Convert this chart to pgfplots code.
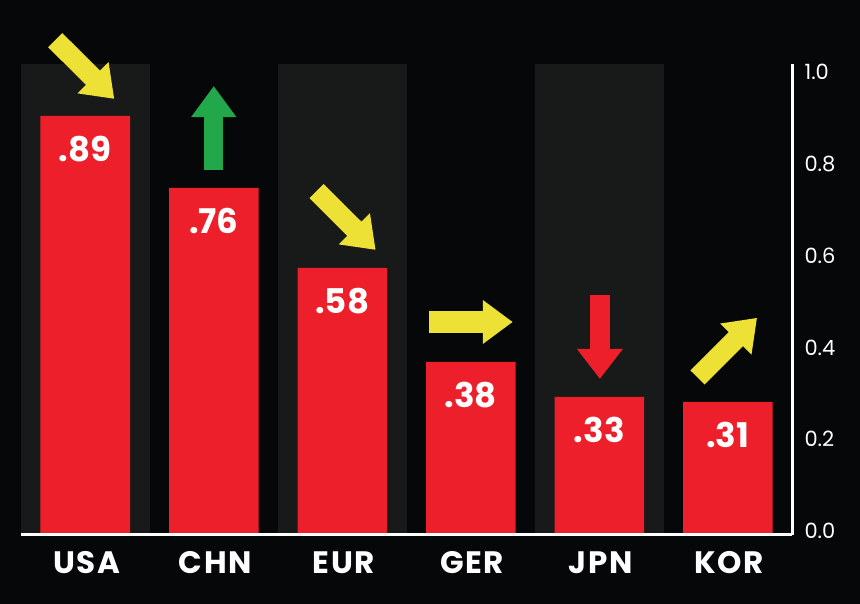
\documentclass[border=0pt]{standalone}
\usepackage{fontspec}
\setmainfont{Poppins}
\usepackage{pgfplots}
\pgfplotsset{compat=1.18}
\usetikzlibrary{arrows.meta}

\definecolor{bgc}{HTML}{060709}
\definecolor{band}{HTML}{181919}
\definecolor{barred}{HTML}{EC1F2A}
\definecolor{ylw}{HTML}{EEE135}
\definecolor{grn}{HTML}{22A84A}

\begin{document}
\begin{tikzpicture}
  % black page behind the chart (860 x 604)
  \fill[bgc] (-21pt,-69pt) rectangle (839pt,535pt);
  \begin{axis}[
      scale only axis,
      width=771pt, height=471pt,
      xmin=-0.5, xmax=5.5,
      ymin=0, ymax=1.026,
      clip=false,
      axis on top,
      axis x line*=bottom,
      axis y line*=right,
      axis line style={white, line width=3pt},
      major tick length=0pt,
      xtick={0,...,5},
      xticklabels={USA,CHN,EUR,GER,JPN,KOR},
      xticklabel style={white, font=\bfseries\fontsize{31}{31}\selectfont\addfontfeatures{LetterSpace=5}, yshift=-13pt, xshift=1.5pt},
      ytick={0,0.2,0.4,0.6,0.8,1.0},
      yticklabels={0.0,0.2,0.4,0.6,0.8,1.0},
      yticklabel style={white, font=\fontsize{21}{21}\selectfont, anchor=west, xshift=9pt, yshift=4pt},
    ]
    % alternating column bands
    \fill[band] (axis cs:-0.5,0) rectangle (axis cs:0.5,1.026);
    \fill[band] (axis cs:1.5,0) rectangle (axis cs:2.5,1.026);
    \fill[band] (axis cs:3.5,0) rectangle (axis cs:4.5,1.026);

    \addplot[ybar, bar width=89.5pt, fill=barred, draw=none,
      point meta=explicit symbolic,
      nodes near coords,
      nodes near coords style={white, anchor=center, yshift=-33pt,
        font=\bfseries\fontsize{34}{34}\selectfont}]
      coordinates {
        (0,0.913) [.89]
        (1,0.756) [.76]
        (2,0.582) [.58]
        (3,0.377) [.38]
        (4,0.301) [.33]
        (5,0.290) [.31]
      };

    % trend arrows
    \draw[ylw, line width=20pt, -{Triangle[length=30pt,width=42pt]}]
      (axis cs:-0.234,1.078) -- (axis cs:0.226,0.950);
    \draw[grn, line width=19pt, -{Triangle[length=31pt,width=43pt]}]
      (axis cs:1.0,0.795) -- (axis cs:1.0,0.978);
    \draw[ylw, line width=20pt, -{Triangle[length=30pt,width=42pt]}]
      (axis cs:1.800,0.749) -- (axis cs:2.260,0.621);
    \draw[ylw, line width=22pt, -{Triangle[length=30pt,width=42pt]}]
      (axis cs:2.673,0.464) -- (axis cs:3.327,0.464);
    \draw[barred, line width=20pt, -{Triangle[length=30pt,width=44pt]}]
      (axis cs:4.005,0.523) -- (axis cs:4.005,0.340);
    \draw[ylw, line width=20pt, -{Triangle[length=30pt,width=42pt]}]
      (axis cs:4.765,0.343) -- (axis cs:5.228,0.473);
  \end{axis}
\end{tikzpicture}
\end{document}
